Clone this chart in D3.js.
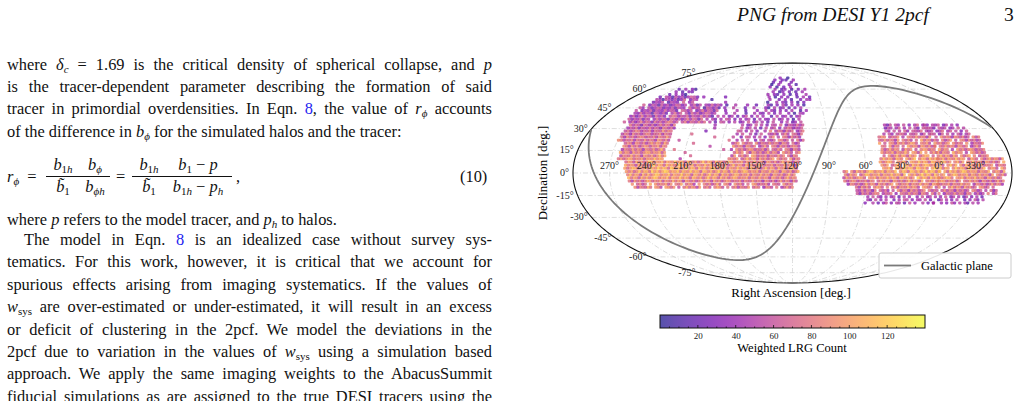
<!DOCTYPE html>
<html><head><meta charset="utf-8">
<script src="https://cdn.jsdelivr.net/npm/d3@7"></script>
<style>
body{margin:0;width:1023px;height:401px;overflow:hidden;background:#fff;font-family:"Liberation Serif","DejaVu Serif",serif;color:#111;position:relative}
.ln{position:absolute;left:7px;width:485px;font-size:16.4px;line-height:22px;white-space:nowrap;text-align:justify;text-align-last:justify}
.ln.l{text-align-last:left}
.b{color:#2424f0}
sub{font-size:11px;vertical-align:-3px;line-height:0}
.eq{position:absolute;font-size:16.4px;white-space:nowrap}
.fr{position:absolute;text-align:center;font-size:16.4px}
.fr .n{border-bottom:1px solid #111;padding:0 1px 1px}
#hdr{position:absolute;top:0;left:737px;font-size:19.6px;font-style:italic;line-height:30px}
#pg{position:absolute;top:0;left:1004px;font-size:19.6px;line-height:30px}
svg{position:absolute;left:0;top:0}
</style></head><body>
<div id="hdr">PNG from DESI Y1 2pcf</div><div id="pg">3</div>
<div class="ln" style="top:54px">where <i>δ<sub>c</sub></i> = 1.69 is the critical density of spherical collapse, and <i>p</i></div>
<div class="ln" style="top:76px">is the tracer-dependent parameter describing the formation of said</div>
<div class="ln" style="top:98px">tracer in primordial overdensities. In Eqn. <span class="b">8</span>, the value of <i>r<sub>ϕ</sub></i> accounts</div>
<div class="ln l" style="top:121px">of the difference in <i>b<sub>ϕ</sub></i> for the simulated halos and the tracer:</div>
<div class="eq" style="left:7px;top:167px"><i>r<sub>ϕ</sub></i> &nbsp;=</div>
<div class="fr" style="left:46px;top:155px;width:34px"><div class="n"><i>b</i><sub>1<i>h</i></sub></div><div><i>b̃</i><sub>1</sub></div></div>
<div class="fr" style="left:80px;top:155px;width:30px"><div class="n"><i>b<sub>ϕ</sub></i></div><div><i>b<sub>ϕh</sub></i></div></div>
<div class="eq" style="left:116px;top:167px">=</div>
<div class="fr" style="left:132px;top:155px;width:34px"><div class="n"><i>b</i><sub>1<i>h</i></sub></div><div><i>b̃</i><sub>1</sub></div></div>
<div class="fr" style="left:164px;top:155px;width:68px"><div class="n"><i>b</i><sub>1</sub> − <i>p</i></div><div><i>b</i><sub>1<i>h</i></sub> − <i>p<sub>h</sub></i></div></div>
<div class="eq" style="left:236px;top:167px">,</div>
<div class="eq" style="left:460px;top:167px">(10)</div>
<div class="ln l" style="top:209px">where <i>p</i> refers to the model tracer, and <i>p<sub>h</sub></i> to halos.</div>
<div class="ln" style="top:229px;left:24px;width:468px">The model in Eqn. <span class="b">8</span> is an idealized case without survey sys-</div>
<div class="ln" style="top:251px">tematics. For this work, however, it is critical that we account for</div>
<div class="ln" style="top:274px">spurious effects arising from imaging systematics. If the values of</div>
<div class="ln" style="top:296px"><i>w</i><sub>sys</sub> are over-estimated or under-estimated, it will result in an excess</div>
<div class="ln" style="top:319px">or deficit of clustering in the 2pcf. We model the deviations in the</div>
<div class="ln" style="top:341px">2pcf due to variation in the values of <i>w</i><sub>sys</sub> using a simulation based</div>
<div class="ln" style="top:363px">approach. We apply the same imaging weights to the AbacusSummit</div>
<div class="ln" style="top:386px">fiducial simulations as are assigned to the true DESI tracers using the</div>
<svg id="c" width="1023" height="401"></svg>
<script>
// ---- data ----
const raCenter = 120;
const raTicks = [270,240,210,180,150,120,90,60,30,0,330];
const decTicks = [75,60,45,30,15,0,-15,-30,-45,-60,-75];
const cbTicks = [20,40,60,80,100,120];
const countDomain = [0,140];
// footprint rows: [decMin, decMax, raFrom, raTo, fill fraction] (raFrom>raTo wraps through 0)
const ngcRows = [
 [-10,-6,120,252,0.8],[-6,0,117,256,1],[0,8,115,258,1],
 [8,33,172,226,0.04],
 [8,20,113,172,0.9],[8,20,226,264,1],
 [20,33,110,140,0.8],[20,33,140,172,0.5],[20,33,226,270,1],
 [33,40,108,150,0.55],[33,40,150,200,0.6],[33,40,200,276,0.95],
 [40,48,105,150,0.55],[40,48,150,195,0.35],[40,48,195,276,0.9],
 [48,55,100,150,0.5],[48,55,225,272,0.85],[48,55,175,225,0.15],
 [55,61,98,150,0.55],[55,61,238,266,0.7],
 [61,72,112,152,0.5]
];
const sgcRows = [
 [-20,-14,318,60,0.55],[-14,-8,310,68,0.85],[-8,2,305,78,0.95],[2,10,305,48,0.9],
 [10,25,318,46,0.85],[25,34,325,40,0.7]
];
// mean weighted count by 5-degree declination band, starting at -20
const bandStart = -20;
const countByDec = [55,66,80,92,96,90,84,78,74,70,62,55,50,46,42,40,38,36,36,36];
// relative brightness by 30-degree RA bin starting at RA 0
const raFactor = [1.05,1.0,0.9,0.85,0.9,0.95,1.0,1.05,0.95,0.95,0.9,1.0];
const texture = [0,-22,10,-8,18,-30,4,14,-14,24,-4,-26,9,-16,6,16,-34,2,12,-10,20,-12,-2,8,-28,15,-6,3,-18,11,21];
const keepPattern = [0.1,0.85,0.4,0.95,0.25,0.7,0.55,0.02,0.9,0.35,0.65,0.15,0.8,0.45,0.3,0.6,0.2,0.75,0.5];
const galLon = d3.range(0,361,2);
// ---- projection ----
const svg = d3.select('#c');
const xS = d3.scaleLinear().domain([-180,180]).range([573,1012]);
const yS = d3.scaleLinear().domain([-1,1]).range([283,63]);
function theta(dec){const p=dec*Math.PI/180;if(Math.abs(dec)>=90)return Math.sign(dec)*Math.PI/2;let t=p;for(let i=0;i<30;i++){t-=(2*t+Math.sin(2*t)-Math.PI*Math.sin(p))/(2+2*Math.cos(2*t));}return t;}
function lam(ra){let l=-(ra-raCenter);l=((l+180)%360+360)%360-180;return l;}
function proj(ra,dec,lo){const t=theta(dec);const l=lo!==undefined?lo:lam(ra);return [xS(l*Math.cos(t)),yS(Math.sin(t))];}
const grid = svg.append('g');
d3.range(-75,76,15).forEach(d=>{const pts=d3.range(-180,181,3).map(l=>proj(0,d,l));
 grid.append('path').attr('d',d3.line()(pts)).attr('fill','none').attr('stroke','#d4d4d4').attr('stroke-width',0.8).attr('stroke-dasharray','5,2,1,2');});
d3.range(-150,151,30).forEach(l=>{const pts=d3.range(-90,91,2).map(d=>proj(0,d,l));
 grid.append('path').attr('d',d3.line()(pts)).attr('fill','none').attr('stroke','#d4d4d4').attr('stroke-width',0.8).attr('stroke-dasharray','5,2,1,2');});
// cells
const color = d3.scaleSequential(d3.interpolatePlasma).domain(countDomain);
const cells=[];let k=0,m=0;
function inRange(ra,a,b){return a<=b?(ra>=a&&ra<=b):(ra>=a||ra<=b);}
const rows=ngcRows.concat(sgcRows);
let rowi=0;
for(let dec=-20;dec<=72;dec+=2.1){
 const step=2.1/Math.cos(dec*Math.PI/180);
 const off=(rowi++%2)*step/2;
 for(let ra=off;ra<360;ra+=step){
  const r=rows.find(q=>dec>=q[0]&&dec<q[1]&&inRange(ra,q[2],q[3]));
  if(!r)continue;
  if(keepPattern[m++%keepPattern.length]>=r[4])continue;
  const bi=Math.min(countByDec.length-1,Math.max(0,Math.floor((dec-bandStart)/5)));
  const edge=r[4]<0.8?0.8:1;
  const v=Math.max(3,(countByDec[bi]*raFactor[Math.floor(ra/30)%12]+texture[k%texture.length])*edge);k++;
  cells.push({ra,dec,v});
 }
}
svg.append('g').selectAll('rect').data(cells).join('rect')
 .attr('x',d=>proj(d.ra,d.dec)[0]-1.6).attr('y',d=>proj(d.ra,d.dec)[1]-1.5)
 .attr('width',3.2).attr('height',3).attr('rx',0.8).attr('fill',d=>color(d.v)).attr('fill-opacity',0.7);
// outline
const outl=d3.range(-90,91,1).map(d=>proj(0,d,180)).concat(d3.range(90,-91,-1).map(d=>proj(0,d,-180)));
svg.append('path').attr('d',d3.line()(outl)+'Z').attr('fill','none').attr('stroke','#111').attr('stroke-width',1.1);
// galactic plane
const aN=192.85948*Math.PI/180,dN=27.12825*Math.PI/180,lN=122.93192*Math.PI/180;
const gp=galLon.map(l=>{const L=l*Math.PI/180;const sd=Math.cos(dN)*Math.cos(lN-L);const dec=Math.asin(sd);
 let ra=(aN+Math.atan2(Math.sin(lN-L),-Math.sin(dN)*Math.cos(lN-L)))*180/Math.PI;ra=(ra%360+360)%360;return {ra,dec:dec*180/Math.PI};});
gp.sort((a,b)=>lam(a.ra)-lam(b.ra));
svg.append('path').attr('d',d3.line()(gp.map(p=>proj(p.ra,p.dec)))).attr('fill','none').attr('stroke','#7a7a7a').attr('stroke-width',1.8);
// tick labels
const lab=svg.append('g').attr('font-size',10).attr('fill','#222');
raTicks.forEach(r=>{const p=proj(r,0);lab.append('text').attr('x',p[0]).attr('y',p[1]-4).attr('text-anchor','middle').text(r+'°');});
decTicks.forEach(d=>{const p=proj(0,d,-180);lab.append('text').attr('x',p[0]-4).attr('y',p[1]+3).attr('text-anchor','end').text((d<0?'-':'')+Math.abs(d)+'°');});
svg.append('text').attr('transform','translate(547,173) rotate(-90)').attr('text-anchor','middle').attr('font-size',13).text('Declination [deg.]');
svg.append('text').attr('x',791).attr('y',297).attr('text-anchor','middle').attr('font-size',13).text('Right Ascension [deg.]');
// legend
const lg=svg.append('g');
lg.append('rect').attr('x',879).attr('y',253).attr('width',132).attr('height',25).attr('rx',2).attr('fill','#fff').attr('fill-opacity',0.9).attr('stroke','#ccc');
lg.append('line').attr('x1',884).attr('x2',911).attr('y1',265.5).attr('y2',265.5).attr('stroke','#7a7a7a').attr('stroke-width',1.8);
lg.append('text').attr('x',921).attr('y',270).attr('font-size',12.5).text('Galactic plane');
// colorbar
const cx=d3.scaleLinear().domain(countDomain).range([660,925]);
const defs=svg.append('defs');const gr=defs.append('linearGradient').attr('id','g');
d3.range(0,1.001,0.05).forEach(t=>gr.append('stop').attr('offset',t).attr('stop-color',d3.interpolatePlasma(t)).attr('stop-opacity',0.7));
svg.append('rect').attr('x',660).attr('y',315).attr('width',265).attr('height',13).attr('fill','url(#g)').attr('stroke','#111').attr('stroke-width',1);
const ax=svg.append('g').attr('transform','translate(0,328)').call(d3.axisBottom(cx).tickValues(cbTicks).tickSize(0).tickPadding(5));
ax.select('.domain').remove();ax.selectAll('text').attr('font-size',9).attr('fill','#222');
svg.append('g').selectAll('line').data(d3.range(5,140,5)).join('line').attr('x1',d=>cx(d)).attr('x2',d=>cx(d)).attr('y1',328).attr('y2',d=>d%20===0?325:326.5).attr('stroke','#111').attr('stroke-width',0.8);
svg.append('text').attr('x',792).attr('y',352).attr('text-anchor','middle').attr('font-size',12.5).text('Weighted LRG Count');
svg.selectAll('text').attr('font-family','"Liberation Serif",serif');
</script></body></html>
